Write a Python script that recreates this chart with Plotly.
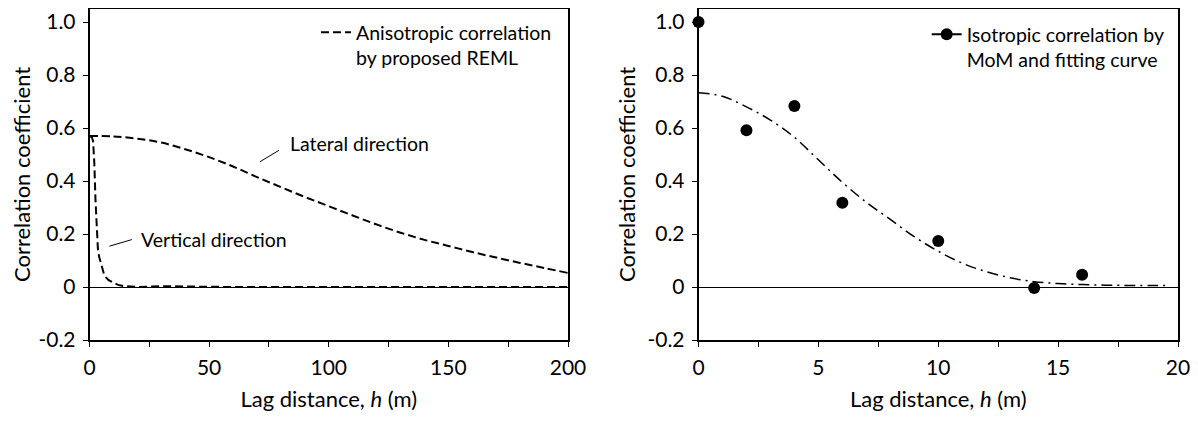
import plotly.graph_objects as go

# ---- data ----
lat_h = [0, 10, 20, 30, 40, 50, 60, 70, 80, 90, 100, 110, 120, 130, 140, 150, 160, 170, 180, 190, 200]
lat_r = [0.57, 0.568, 0.56, 0.545, 0.52, 0.49, 0.455, 0.415, 0.377, 0.34, 0.305, 0.27, 0.236, 0.205, 0.178, 0.155, 0.132, 0.111, 0.091, 0.072, 0.053]

ver_h = [0, 1, 1.5, 2, 2.5, 3, 3.5, 4, 5, 6, 7, 8, 10, 12, 14, 17, 20, 30, 40, 50, 60, 100, 150, 200]
ver_r = [0.57, 0.565, 0.55, 0.47, 0.33, 0.20, 0.145, 0.115, 0.078, 0.05, 0.035, 0.026, 0.016, 0.008, 0.004, 0.001, 0.0, 0.003, 0.003, 0.001, 0.0, 0.0, 0.0, 0.0]

mom_h = [0, 2, 4, 6, 10, 14, 16]
mom_r = [1.0, 0.592, 0.683, 0.318, 0.174, -0.004, 0.046]

fit_h = [0, 1, 2, 3, 4, 5, 6, 7, 8, 9, 10, 11, 12, 13, 14, 15, 16, 17, 18, 19, 19.6]
fit_r = [0.733, 0.72, 0.68, 0.63, 0.565, 0.48, 0.395, 0.32, 0.255, 0.19, 0.135, 0.09, 0.058, 0.035, 0.02, 0.013, 0.009, 0.007, 0.006, 0.006, 0.006]

y_tickvals = [-0.2, 0, 0.2, 0.4, 0.6, 0.8, 1.0]
y_ticktext = ["-0.2", "0", "0.2", "0.4", "0.6", "0.8", "1.0"]
x1_tickvals = [0, 50, 100, 150, 200]
x2_tickvals = [0, 5, 10, 15, 20]

legend1_text = "Anisotropic correlation<br>by proposed REML"
legend2_text = "Isotropic correlation by<br>MoM and fitting curve"
x_title = "Lag distance, <i>h</i> (m)"
y_title = "Correlation coefficient"

FONT = "Lato"
FS_TICK = 21
FS_TITLE = 22
FS_TEXT = 19.5

# figure is placed with the page's default 8px body margin
W, H = 1190, 413

fig = go.Figure()

fig.add_trace(go.Scatter(x=lat_h, y=lat_r, mode="lines", xaxis="x", yaxis="y",
                         line=dict(color="black", width=2, dash="8px,4px", shape="spline"),
                         name=legend1_text, legend="legend", showlegend=True))
fig.add_trace(go.Scatter(x=ver_h, y=ver_r, mode="lines", xaxis="x", yaxis="y",
                         line=dict(color="black", width=2, dash="8px,4px"),
                         showlegend=False))

fig.add_trace(go.Scatter(x=fit_h, y=fit_r, mode="lines", xaxis="x2", yaxis="y2",
                         line=dict(color="black", width=1.5, dash="11px,5px,2px,5px", shape="spline"),
                         showlegend=False))
fig.add_trace(go.Scatter(x=mom_h, y=mom_r, mode="markers", xaxis="x2", yaxis="y2",
                         marker=dict(color="black", size=12), cliponaxis=False,
                         showlegend=False))
# legend entry for right panel
fig.add_trace(go.Scatter(x=[None], y=[None], mode="lines+markers", xaxis="x2", yaxis="y2",
                         line=dict(color="black", width=2),
                         marker=dict(color="black", size=12),
                         name=legend2_text, legend="legend2", showlegend=True))

axis_common = dict(showline=True, linecolor="black", linewidth=1.5, mirror=True,
                   ticks="outside", ticklen=5, tickcolor="black", tickwidth=1,
                   showgrid=False, automargin=False, ticklabelstandoff=3,
                   tickfont=dict(family=FONT, size=FS_TICK, color="black"))

yax = dict(axis_common, range=[-0.2, 1.05], tickvals=y_tickvals, ticktext=y_ticktext,
           zeroline=True, zerolinecolor="black", zerolinewidth=1,
           title=dict(text=y_title, font=dict(family=FONT, size=FS_TITLE, color="black"), standoff=6))

xtitle = dict(text=x_title, font=dict(family=FONT, size=FS_TITLE, color="black"), standoff=14)

ydom = [1 - 332 / H, 1 - 0.8 / H]

fig.update_layout(
    width=W, height=H,
    margin=dict(l=0, r=0, t=0, b=0),
    paper_bgcolor="white", plot_bgcolor="white",
    font=dict(family=FONT, size=FS_TEXT, color="black"),
    xaxis=dict(axis_common, domain=[81.5 / W, 560 / W], range=[0, 200], tickvals=x1_tickvals,
               minor=dict(dtick=25, ticks="outside", ticklen=5, tickcolor="black"),
               zeroline=False, anchor="y", title=xtitle),
    yaxis=dict(yax, domain=ydom, anchor="x"),
    xaxis2=dict(axis_common, domain=[690.5 / W, 1170 / W], range=[0, 20], tickvals=x2_tickvals,
                minor=dict(dtick=2.5, ticks="outside", ticklen=5, tickcolor="black"),
                zeroline=False, anchor="y2", title=xtitle),
    yaxis2=dict(yax, domain=ydom, anchor="x2"),
    legend=dict(x=0.2588, y=0.988, xanchor="left", yanchor="top", bgcolor="rgba(0,0,0,0)",
                font=dict(family=FONT, size=FS_TEXT), valign="top", itemwidth=30),
    legend2=dict(x=0.772, y=0.983, xanchor="left", yanchor="top", bgcolor="rgba(0,0,0,0)",
                 font=dict(family=FONT, size=FS_TEXT), valign="top", itemwidth=30),
    annotations=[
        dict(text="Lateral direction", x=83, y=0.542, xref="x", yref="y", xanchor="left",
             yanchor="middle", showarrow=False, font=dict(family=FONT, size=FS_TEXT)),
        dict(text="Vertical direction", x=20.8, y=0.18, xref="x", yref="y", xanchor="left",
             yanchor="middle", showarrow=False, font=dict(family=FONT, size=FS_TEXT)),
    ],
    shapes=[
        dict(type="line", xref="x", yref="y", x0=71.3, y0=0.473, x1=79.2, y1=0.516,
             line=dict(color="black", width=1)),
        dict(type="line", xref="x", yref="y", x0=8.3, y0=0.154, x1=17.7, y1=0.179,
             line=dict(color="black", width=1)),
    ],
)

fig.write_html("out.html")
